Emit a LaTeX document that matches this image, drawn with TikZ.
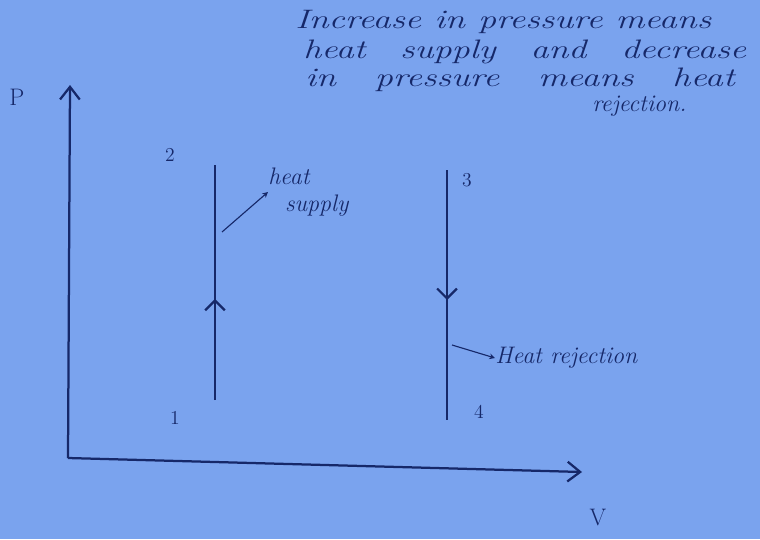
\documentclass[tikz,border=0pt]{standalone}
\usepackage{graphicx}
\usetikzlibrary{arrows.meta,decorations.markings}

\definecolor{paper}{RGB}{122,163,238}
\definecolor{ink}{RGB}{22,40,105}

\newcommand{\spreadline}[2]{\scalebox{1.35}[1]{\makebox[#1][s]{#2}}}

\tikzset{
    axis/.style={ink, line width=1.6pt, -{Straight Barb[length=9pt,width=14pt]}},
    process/.style={ink, line width=1.6pt},
    hand/.style={ink, font=\fontsize{19}{26}\selectfont\itshape, inner sep=0pt},
    tag/.style={ink, font=\fontsize{14}{16}\selectfont, inner sep=1pt},
    leader/.style={ink, line width=0.8pt, -{Stealth[length=4pt,width=4pt]}}
}

\begin{document}
\begin{tikzpicture}[x=0.025cm, y=-0.025cm]
            \fill[paper] (0,0) rectangle (760,539);
            \useasboundingbox (0,0) rectangle (760,539);

            % axes
            \coordinate (O) at (68,458);
            \coordinate (Ptop) at (70,85);
            \coordinate (Vend) at (582,472);
            \draw[axis] (O) -- (Ptop);
            \draw[axis] (O) -- (Vend);
            \node[tag, font=\fontsize{17}{18}\selectfont] (P) at (17,97) {P};
            \node[tag, font=\fontsize{17}{18}\selectfont] (V) at (598,518) {V};

            % constant volume lines
            \coordinate (s1) at (215,400);
            \coordinate (s2) at (215,165);
            \coordinate (s3) at (447,170);
            \coordinate (s4) at (447,420);

            \draw[process, decoration={markings, mark=at position 0.43 with {\arrow{Straight Barb[length=7pt,width=14pt]}}}, postaction={decorate}] (s1) -- (s2);
            \draw[process, decoration={markings, mark=at position 0.52 with {\arrow{Straight Barb[length=7pt,width=14pt]}}}, postaction={decorate}] (s3) -- (s4);

            \node[tag] (n1) at (175,418) {1};
            \node[tag] (n2) at (170,155) {2};
            \node[tag] (n3) at (467,180) {3};
            \node[tag] (n4) at (479,412) {4};

            % labels
            \node[hand, align=left, anchor=west, font=\fontsize{17}{19}\selectfont\itshape] (supply) at (268,192) {heat\\\ \ supply};
            \coordinate (a1) at (222,232);
            \draw[leader] (a1) -- (supply.west);

            \node[hand, anchor=west, font=\fontsize{17}{19}\selectfont\itshape] (reject) at (495,358) {Heat rejection};
            \coordinate (a2) at (452,345);
            \draw[leader] (a2) -- (reject.west);

            % note
            \node[hand, anchor=west] (note1) at (295,22) {\spreadline{7.7cm}{Increase in pressure means}};
            \node[hand, anchor=west] (note2) at (303,52) {\spreadline{8.2cm}{heat supply and decrease}};
            \node[hand, anchor=west] (note3) at (305,80) {\spreadline{7.95cm}{in pressure means heat}};
            \node[hand, anchor=west, font=\fontsize{17}{19}\selectfont\itshape] (note4) at (592,106) {rejection.};

        \end{tikzpicture}
\end{document}
